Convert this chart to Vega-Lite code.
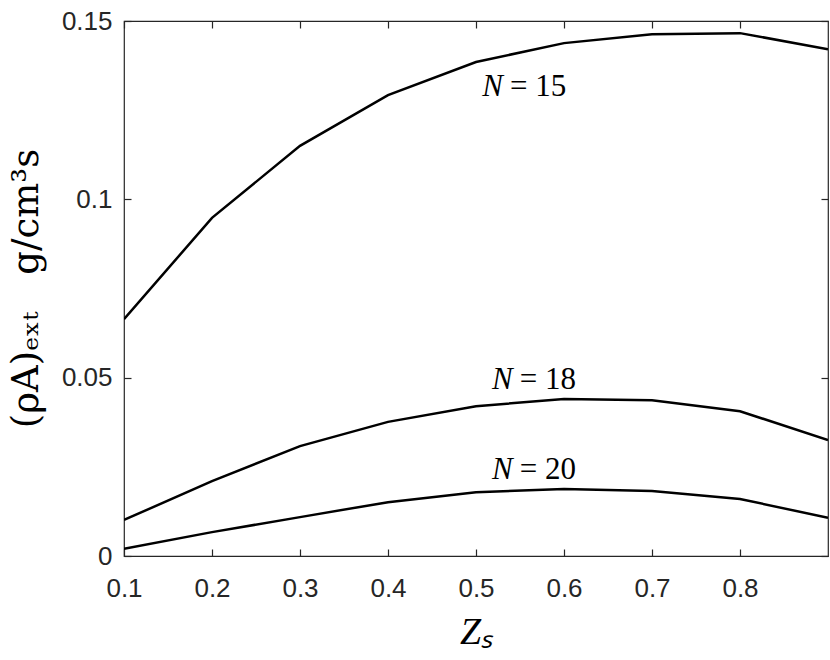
{
  "$schema": "https://vega.github.io/schema/vega-lite/v6.json",
  "width": 704,
  "height": 535,
  "autosize": "none",
  "padding": {"left": 124, "top": 21, "right": 2, "bottom": 104},
  "background": "white",
  "config": {
    "view": {"stroke": "#262626", "strokeWidth": 1.2},
    "axis": {
      "grid": false,
      "domain": false,
      "tickColor": "#262626",
      "tickSize": -7,
      "tickWidth": 1.2,
      "labelFlush": false,
      "labelOverlap": false,
      "labelFont": "Liberation Sans",
      "labelFontSize": 26,
      "labelColor": "#262626",
      "titleFont": "Liberation Serif",
      "titleFontWeight": "normal",
      "titleColor": "#000000"
    }
  },
  "datasets": {
    "curves": [
      {"N": "15", "z": 0.1, "v": 0.0664},
      {"N": "15", "z": 0.2, "v": 0.0948},
      {"N": "15", "z": 0.3, "v": 0.1150},
      {"N": "15", "z": 0.4, "v": 0.1292},
      {"N": "15", "z": 0.5, "v": 0.1385},
      {"N": "15", "z": 0.6, "v": 0.1438},
      {"N": "15", "z": 0.7, "v": 0.1463},
      {"N": "15", "z": 0.8, "v": 0.1466},
      {"N": "15", "z": 0.9, "v": 0.1421},
      {"N": "18", "z": 0.1, "v": 0.0101},
      {"N": "18", "z": 0.2, "v": 0.0210},
      {"N": "18", "z": 0.3, "v": 0.0308},
      {"N": "18", "z": 0.4, "v": 0.0376},
      {"N": "18", "z": 0.5, "v": 0.0420},
      {"N": "18", "z": 0.6, "v": 0.0440},
      {"N": "18", "z": 0.7, "v": 0.0437},
      {"N": "18", "z": 0.8, "v": 0.0406},
      {"N": "18", "z": 0.9, "v": 0.0325},
      {"N": "20", "z": 0.1, "v": 0.0020},
      {"N": "20", "z": 0.2, "v": 0.0067},
      {"N": "20", "z": 0.3, "v": 0.0109},
      {"N": "20", "z": 0.4, "v": 0.0151},
      {"N": "20", "z": 0.5, "v": 0.0179},
      {"N": "20", "z": 0.6, "v": 0.0188},
      {"N": "20", "z": 0.7, "v": 0.0182},
      {"N": "20", "z": 0.8, "v": 0.0160},
      {"N": "20", "z": 0.9, "v": 0.0107}
    ],
    "labels": [
      {"rest": "= 15", "z": 0.55, "v": 0.1315},
      {"rest": "= 18", "z": 0.561, "v": 0.0493},
      {"rest": "= 20", "z": 0.561, "v": 0.0241}
    ]
  },
  "layer": [
    {
      "data": {"name": "curves"},
      "mark": {"type": "line", "color": "#000000", "strokeWidth": 2.5, "clip": true},
      "encoding": {
        "x": {
          "field": "z", "type": "quantitative",
          "scale": {"domain": [0.1, 0.9], "nice": false, "zero": false},
          "axis": {
            "orient": "bottom",
            "values": [0.1, 0.2, 0.3, 0.4, 0.5, 0.6, 0.7, 0.8],
            "format": ".1f",
            "labelPadding": 26,
            "title": "Zₛ",
            "titleFontSize": 38,
            "titleFontStyle": "italic",
            "titleBaseline": "middle",
            "titleY": 76
          }
        },
        "y": {
          "field": "v", "type": "quantitative",
          "scale": {"domain": [0, 0.15], "nice": false, "zero": false},
          "axis": {
            "orient": "left",
            "values": [0, 0.05, 0.1, 0.15],
            "format": ".2~f",
            "labelPadding": 19,
            "title": "(ρA)ₑₓₜ\u2003g/cm³s",
            "titleFont": "DejaVu Serif",
            "titleFontSize": 37,
            "titleAngle": -90,
            "titleBaseline": "middle",
            "titleX": -98,
            "titleY": 267
          }
        },
        "detail": {"field": "N", "type": "nominal"}
      }
    },
    {
      "data": {"name": "labels"},
      "mark": {"type": "text", "text": "N", "font": "Liberation Serif", "fontStyle": "italic", "fontSize": 31, "color": "#000000", "align": "right", "baseline": "middle", "dx": -17},
      "encoding": {
        "x": {
          "field": "z", "type": "quantitative",
          "axis": {"orient": "top", "values": [0.1, 0.2, 0.3, 0.4, 0.5, 0.6, 0.7, 0.8], "labels": false, "title": null}
        },
        "y": {
          "field": "v", "type": "quantitative",
          "axis": {"orient": "right", "values": [0, 0.05, 0.1, 0.15], "labels": false, "title": null}
        }
      }
    },
    {
      "data": {"name": "labels"},
      "mark": {"type": "text", "font": "Liberation Serif", "fontSize": 31, "color": "#000000", "align": "left", "baseline": "middle", "dx": -10},
      "encoding": {
        "x": {"field": "z", "type": "quantitative", "axis": null},
        "y": {"field": "v", "type": "quantitative", "axis": null},
        "text": {"field": "rest", "type": "nominal"}
      }
    }
  ],
  "resolve": {"axis": {"x": "independent", "y": "independent"}}
}
